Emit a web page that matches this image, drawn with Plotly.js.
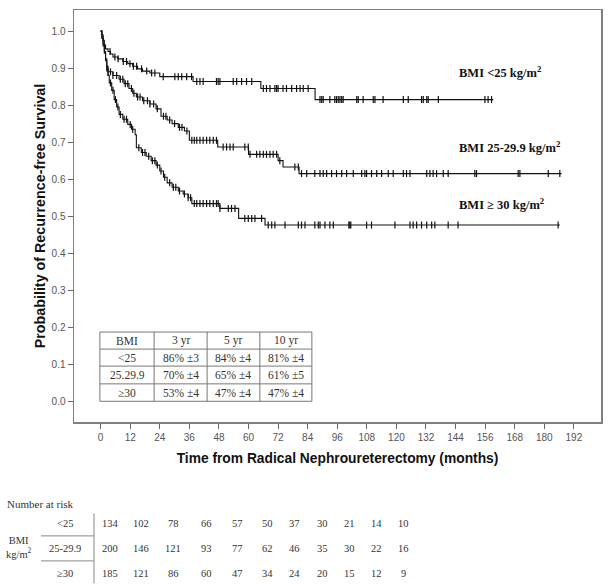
<!DOCTYPE html>
<html>
<head>
<meta charset="utf-8">
<script src="https://cdn.plot.ly/plotly-3.0.1.min.js"></script>
<style>html,body{margin:0;padding:0;background:#fff;}#chart{width:614px;height:585px;}</style>
</head>
<body>
<div id="chart"></div>
<script>
// ---- Kaplan-Meier step data (months, survival) ----
var lt25_t = [0, 0.5, 1, 1.5, 2, 3, 4, 5, 7, 9, 11, 13, 15, 17, 20, 24, 37.5, 65, 87];
var lt25_s = [1.0, 0.99, 0.975, 0.962, 0.952, 0.945, 0.938, 0.93, 0.925, 0.918, 0.912, 0.905, 0.898, 0.892, 0.887, 0.877, 0.864, 0.845, 0.815];
var lt25_end = 159.3;
var lt25_cens = [3.8, 5.8, 7.1, 9.2, 10.5, 11.9, 13.3, 14.6, 16.6, 18.7, 20.7, 22, 25.4, 30.1, 31.5, 32.9, 34.9, 36.9,
  39, 40.3, 41.6, 47, 47.7, 48.4, 53.8, 55.2, 57.2, 59.2, 61.3,
  66, 67.3, 68.7, 70.7, 71.4, 72, 74, 75.4, 77.5, 79.5, 80.9, 82.2, 84.2,
  89, 89.7, 90.3, 93, 95, 95.7, 96.4, 97.1, 97.8, 98.4, 103.9, 104.5, 106.5, 110.6, 111.3, 114.6, 122.8, 124.8,
  130.2, 130.9, 132.3, 132.9, 137, 155.9, 157.2, 158.6];

var mid_t = [0, 0.5, 1, 1.5, 2, 2.5, 3, 5, 7.5, 9.5, 11.5, 13, 14.5, 17, 20, 22.5, 24.5, 27, 29, 31.5, 34, 36, 47.5, 60, 72, 74, 80.5];
var mid_s = [1.0, 0.985, 0.965, 0.945, 0.925, 0.905, 0.89, 0.88, 0.87, 0.858, 0.845, 0.832, 0.822, 0.812, 0.803, 0.79, 0.77, 0.76, 0.75, 0.74, 0.73, 0.705, 0.687, 0.667, 0.65, 0.633, 0.615];
var mid_end = 187;
var mid_cens = [3, 4, 5, 6.5, 8, 9, 10, 11, 12.5, 13.5, 15, 16, 17.5, 19, 20, 21.5, 23, 25.5, 26.5, 28, 30, 32, 33, 35, 37, 38,
  39, 40.3, 41.6, 43, 44.3, 45.7, 47, 49.7, 51.1, 52.5, 53.8, 58.5, 59.9, 60.6, 63.3, 64.6, 66, 67.3, 68.7, 70, 71.4, 72.7, 78.8, 80.2,
  81.5, 83.6, 86.9, 89, 90.3, 91.7, 93.7, 95.7, 97.8, 99.8, 102.5, 105.9, 107.2, 107.9, 109.9, 112, 114, 116.7, 118.7,
  122.8, 124.1, 125.5, 132.3, 133.6, 134.9, 136.3, 139, 141, 151.8, 152.5, 169.4, 170.1, 181.6, 186.3];

var ge30_t = [0, 0.5, 1, 1.5, 2, 2.5, 3, 3.5, 4.5, 5.5, 6.5, 7.5, 9, 11, 12.5, 14, 14.5, 16.5, 18.5, 20.5, 22.5, 24, 25.5, 27, 29, 31.5, 33.5, 35.5, 37, 48.4, 56, 66.7];
var ge30_s = [1.0, 0.98, 0.96, 0.94, 0.92, 0.9, 0.88, 0.86, 0.84, 0.815, 0.795, 0.775, 0.762, 0.748, 0.735, 0.72, 0.685, 0.672, 0.662, 0.65, 0.638, 0.622, 0.605, 0.59, 0.578, 0.568, 0.56, 0.55, 0.534, 0.521, 0.494, 0.476];
var ge30_end = 186.3;
var ge30_cens = [2.5, 4, 5, 6, 7, 8, 9.5, 10.5, 12, 13, 15.5, 17, 18, 19.5, 21, 22, 23, 24.5, 26, 28, 29.5, 30.5, 32, 34, 35.5, 36.5, 38,
  39, 40.3, 41.6, 43, 44.3, 45.7, 47, 47.7, 48.4, 51.8, 53.1, 54.5, 58.5, 59.9, 61.3, 62.6, 65.3, 68, 69.4, 70.7, 74.8, 80.2,
  81.5, 82.9, 86.9, 88.3, 89, 91, 93, 94.4, 100.7, 101.1, 101.5, 107.9, 109.9, 119.4, 125.5, 126.8, 128.2, 130.2, 132.3,
  134.3, 135.6, 141, 145, 185.6];

var curveLabels = ['BMI &lt;25 kg/m<sup>2</sup>', 'BMI 25-29.9 kg/m<sup>2</sup>', 'BMI ≥ 30 kg/m<sup>2</sup>'];

// inset table
var tblHeader = ['BMI', '3 yr', '5 yr', '10 yr'];
var tblGroups = ['&lt;25', '25.29.9', '≥30'];
var tbl3yr = ['86% ±3', '70% ±4', '53% ±4'];
var tbl5yr = ['84% ±4', '65% ±4', '47% ±4'];
var tbl10yr = ['81% ±4', '61% ±5', '47% ±4'];

// number at risk
var riskGroups = ['&lt;25', '25-29.9', '≥30'];
var risk_lt25 = [134, 102, 78, 66, 57, 50, 37, 30, 21, 14, 10];
var risk_mid = [200, 146, 121, 93, 77, 62, 46, 35, 30, 22, 16];
var risk_ge30 = [185, 121, 86, 60, 47, 34, 24, 20, 15, 12, 9];

var xTicks = [0, 12, 24, 36, 48, 60, 72, 84, 96, 108, 120, 132, 144, 156, 168, 180, 192];
var yTicks = [0.0, 0.1, 0.2, 0.3, 0.4, 0.5, 0.6, 0.7, 0.8, 0.9, 1.0];

// ---- layout constants (pixel positions) ----
var plotTop = 10, plotBot = 421.7, plotL = 74, plotR = 601;
var riskColPx = [110, 141, 173, 206, 237, 267, 294, 322, 349, 376, 403];
var riskRowPx = [523, 548, 573];

// ---- build ----
function stepAt(ts, ss, t) {
  var v = ss[0];
  for (var i = 0; i < ts.length; i++) { if (ts[i] <= t) v = ss[i]; }
  return v;
}
function lineTrace(ts, ss, end) {
  return {x: ts.concat([end]), y: ss.concat([ss[ss.length - 1]]), mode: 'lines',
    line: {shape: 'hv', color: '#111', width: 1.1}, hoverinfo: 'skip', showlegend: false};
}
function censTrace(ts, ss, cens) {
  return {x: cens, y: cens.map(function (c) { return stepAt(ts, ss, c); }), mode: 'markers',
    marker: {symbol: 'line-ns-open', size: 5, color: '#111', line: {width: 1.2, color: '#111'}},
    hoverinfo: 'skip', showlegend: false};
}
var data = [
  lineTrace(lt25_t, lt25_s, lt25_end), censTrace(lt25_t, lt25_s, lt25_cens),
  lineTrace(mid_t, mid_s, mid_end), censTrace(mid_t, mid_s, mid_cens),
  lineTrace(ge30_t, ge30_s, ge30_end), censTrace(ge30_t, ge30_s, ge30_cens)
];

var serif = 'Liberation Serif, Times New Roman, serif';
var sans = 'Liberation Sans, Arial, sans-serif';
var annotations = [];
var shapes = [];

// curve labels
var labelY = [0.89, 0.687, 0.534];
curveLabels.forEach(function (txt, i) {
  annotations.push({x: 144.4, y: labelY[i], xref: 'x', yref: 'y', text: '<b>' + txt + '</b>', showarrow: false,
    xanchor: 'left', yanchor: 'middle', font: {family: serif, size: 12.5, color: '#111'}});
});

// inset table geometry (in axis units)
var colX = [-0.3, 21.7, 43.2, 64.6, 85.7];
var rowY = [0.187, 0.141, 0.095, 0.047, 0.0];
for (var c = 0; c < colX.length; c++) {
  shapes.push({type: 'line', xref: 'x', yref: 'y', x0: colX[c], x1: colX[c], y0: rowY[0], y1: rowY[rowY.length - 1],
    line: {color: '#777', width: 1}});
}
for (var r = 0; r < rowY.length; r++) {
  shapes.push({type: 'line', xref: 'x', yref: 'y', x0: colX[0], x1: colX[colX.length - 1], y0: rowY[r], y1: rowY[r],
    line: {color: '#777', width: 1}});
}
var tableRows = [tblHeader];
for (var g = 0; g < tblGroups.length; g++) tableRows.push([tblGroups[g], tbl3yr[g], tbl5yr[g], tbl10yr[g]]);
tableRows.forEach(function (row, ri) {
  row.forEach(function (cell, ci) {
    annotations.push({x: (colX[ci] + colX[ci + 1]) / 2, y: (rowY[ri] + rowY[ri + 1]) / 2, xref: 'x', yref: 'y',
      text: cell, showarrow: false, xanchor: 'center', yanchor: 'middle',
      font: {family: serif, size: 11.5, color: '#333'}});
  });
});

// number at risk (paper coords below plot)
function py(p) { return (plotBot - p) / (plotBot - plotTop); }
function pxp(p) { return (p - plotL) / (plotR - plotL); }
annotations.push({x: pxp(5), y: py(504), xref: 'paper', yref: 'paper', text: 'Number at risk', showarrow: false,
  xanchor: 'left', yanchor: 'middle', font: {family: serif, size: 11, color: '#333'}});
annotations.push({x: pxp(19), y: py(547), xref: 'paper', yref: 'paper', text: 'BMI<br>kg/m<sup>2</sup>', showarrow: false,
  xanchor: 'center', yanchor: 'middle', font: {family: serif, size: 10.5, color: '#333'}});
var riskRows = [risk_lt25, risk_mid, risk_ge30];
riskGroups.forEach(function (gName, gi) {
  annotations.push({x: pxp(65), y: py(riskRowPx[gi]), xref: 'paper', yref: 'paper', text: gName, showarrow: false,
    xanchor: 'center', yanchor: 'middle', font: {family: serif, size: 10.5, color: '#333'}});
  riskRows[gi].forEach(function (n, k) {
    annotations.push({x: pxp(riskColPx[k]), y: py(riskRowPx[gi]), xref: 'paper', yref: 'paper', text: String(n), showarrow: false,
      xanchor: 'center', yanchor: 'middle', font: {family: serif, size: 10.5, color: '#333'}});
  });
});
shapes.push({type: 'line', xref: 'paper', yref: 'paper', x0: pxp(94), x1: pxp(94), y0: py(513), y1: py(583),
  line: {color: '#888', width: 1}});
shapes.push({type: 'line', xref: 'paper', yref: 'paper', x0: pxp(41), x1: pxp(94), y0: py(535.5), y1: py(535.5),
  line: {color: '#888', width: 1}});
shapes.push({type: 'line', xref: 'paper', yref: 'paper', x0: pxp(41), x1: pxp(94), y0: py(560.5), y1: py(560.5),
  line: {color: '#888', width: 1}});

var layout = {
  width: 614, height: 585,
  margin: {l: plotL, r: 614 - plotR, t: plotTop, b: 585 - plotBot},
  paper_bgcolor: '#fff', plot_bgcolor: '#fff',
  showlegend: false,
  xaxis: {range: [-10.8, 203], tickvals: xTicks, ticktext: xTicks.map(String), ticks: 'outside', ticklen: 5,
    tickcolor: '#666', tickfont: {family: sans, size: 10, color: '#555'}, showline: true, mirror: true,
    linecolor: '#808080', linewidth: 1.5, showgrid: false, zeroline: false,
    title: {text: '<b>Time from Radical Nephroureterectomy (months)</b>', font: {family: sans, size: 13.8, color: '#111'}, standoff: 12}},
  yaxis: {range: [-0.056, 1.057], tickvals: yTicks, ticktext: yTicks.map(function (v) { return v.toFixed(1); }),
    ticks: 'outside', ticklen: 5, tickcolor: '#666', tickfont: {family: sans, size: 10, color: '#555'},
    showline: true, mirror: true, linecolor: '#808080', linewidth: 1.5, showgrid: false, zeroline: false,
    title: {text: '<b>Probability of Recurrence-free Survival</b>', font: {family: sans, size: 14.3, color: '#111'}, standoff: 2}},
  annotations: annotations,
  shapes: shapes
};
Plotly.newPlot('chart', data, layout, {staticPlot: true, displayModeBar: false});
</script>
</body>
</html>
